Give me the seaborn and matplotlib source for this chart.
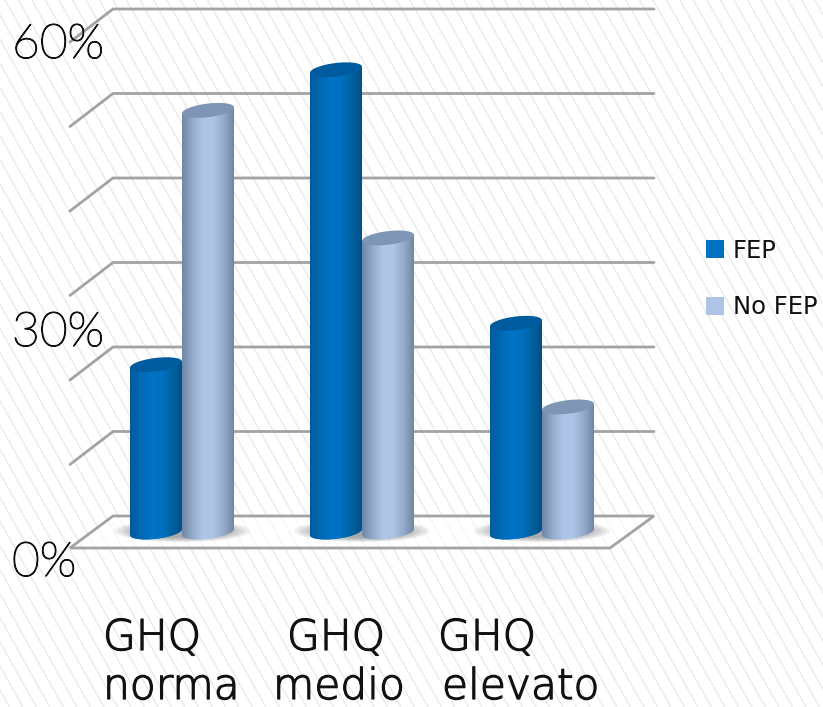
import numpy as np
import pandas as pd
import matplotlib
matplotlib.use("Agg")
import matplotlib.pyplot as plt
import matplotlib.patheffects as pe
from matplotlib.colors import LinearSegmentedColormap
from matplotlib.patches import Ellipse, PathPatch, Polygon
from matplotlib.path import Path
import seaborn as sns

# Chart values (percent)
groups = ["GHQ norma", "GHQ medio", "GHQ elevato"]
series_names = ["FEP", "No FEP"]
fep_values = [19.8, 54.7, 24.7]
no_fep_values = [49.9, 34.8, 14.8]
y_tick_labels = ["0%", "30%", "60%"]
grid_values = [0, 10, 20, 30, 40, 50, 60]

W, H = 823, 707
sns.set_theme(style="white")
plt.rcParams["font.family"] = ["Lato", "DejaVu Sans"]

fig = plt.figure(figsize=(W / 100, H / 100), dpi=100)
ax = fig.add_axes([0, 0, 1, 1])

# Scales: one category step is 180 px, one percentage point is 8.45 px
PX_X, PX_Y = 180.0, 8.45
ax.set_xlim(-182 / PX_X, (W - 182) / PX_X)
ax.set_ylim(-(H - 532) / PX_Y, 532 / PX_Y)


def fx(px):
    return (px - 182) / PX_X


def fy(py):
    return (532 - py) / PX_Y


df = pd.DataFrame({
    "group": groups * 2,
    "series": [series_names[0]] * 3 + [series_names[1]] * 3,
    "value": fep_values + no_fep_values,
})
palette = {"FEP": "#0070C0", "No FEP": "#AEC4E6"}
sns.barplot(data=df, x="group", y="value", hue="series", hue_order=series_names,
            palette=palette, width=0.578, gap=0, saturation=1, ax=ax, zorder=5,
            linewidth=0)
bars = list(ax.containers[0]) + list(ax.containers[1])
names = [series_names[0]] * 3 + [series_names[1]] * 3
ax.set_xlim(-182 / PX_X, (W - 182) / PX_X)
ax.set_ylim(-(H - 532) / PX_Y, 532 / PX_Y)
ax.set_axis_off()

# Diagonal pinstripe background
for x0 in np.arange(-400, W + 40, 13.5):
    ax.plot([fx(x0), fx(x0 + H * 0.56)], [fy(0), fy(H)], color="#EAEAEA", lw=1.0, zorder=0)

# Wall gridlines with their left-hand returns, and the floor
GRID = "#A3A3A3"
floor = [(fx(70), fy(548)), (fx(610), fy(548)), (fx(654), fy(516)), (fx(113), fy(516))]
for v in grid_values:
    y_back = 516 - v * PX_Y
    if v == 0:
        ax.add_patch(Polygon(floor, closed=True, fc="#FFFFFF", ec="none", alpha=0.6, zorder=1))
        ax.add_patch(Polygon(floor, closed=True, fc="none", ec=GRID, lw=2, zorder=1.5))
    else:
        ax.plot([fx(70), fx(113), fx(654)], [fy(y_back + 33), fy(y_back), fy(y_back)],
                color=GRID, lw=2, zorder=1, solid_joinstyle="miter")

# Cylinder shading across each bar
body_cmaps = {
    "FEP": LinearSegmentedColormap.from_list("fep", ["#005A9E", "#0068B4", "#0074C6", "#0070C0", "#00619F", "#004F85"]),
    "No FEP": LinearSegmentedColormap.from_list("nofep", ["#6F86A6", "#94ABCD", "#B0C6E8", "#AEC4E6", "#93A9C8", "#6F829E"]),
}
top_colors = {"FEP": "#005C9F", "No FEP": "#7F95B5"}
ramp = np.linspace(0, 1, 128).reshape(1, -1)

B = 6.8 / PX_Y     # ellipse half height
TILT = 3.0 / PX_Y  # rise of the ellipse toward its right edge
t = np.linspace(0, 2 * np.pi, 80)

# Soft contact shadows on the floor
for cx in [0, 1, 2]:
    for k in np.linspace(1.0, 0.6, 8):
        ax.add_patch(Ellipse((cx, fy(531)), 2 * 68 / PX_X * k, 2 * 11 / PX_Y * k,
                             fc="#555555", ec="none", alpha=0.08, zorder=2))

# Left bars first, so that the right one overlaps its neighbour
for bar, name in sorted(zip(bars, names), key=lambda p: p[0].get_x()):
    x0, w, h = bar.get_x(), bar.get_width(), bar.get_height()
    cx, a = x0 + w / 2, w / 2
    z = 5 + x0
    bar.set_zorder(z)
    tb = np.linspace(0, np.pi, 40)  # lower half of the base, right to left ...
    bx = cx + a * np.cos(tb)
    by = -B * np.sin(tb) + TILT * np.cos(tb)
    # ... then up the left side and across the top
    verts = np.column_stack([
        np.r_[bx, x0, x0 + w, bx[0]],
        np.r_[by, h - TILT, h + TILT, by[0]],
    ])
    body = PathPatch(Path(verts), fc=palette[name], ec="none", zorder=z)
    ax.add_patch(body)
    im = ax.imshow(ramp, cmap=body_cmaps[name], aspect="auto", zorder=z + 0.01,
                   extent=[x0, x0 + w, -2 * B - TILT, h + 2 * B])
    im.set_clip_path(body)
    ex = cx + a * np.cos(t)
    ey = h + B * np.sin(t) + TILT * np.cos(t)
    ax.fill(ex, ey, color=top_colors[name], lw=0, zorder=z + 0.02)
    bar.set_visible(False)

ax.set_xlim(-182 / PX_X, (W - 182) / PX_X)
ax.set_ylim(-(H - 532) / PX_Y, 532 / PX_Y)

# Thin display faces get a slight outline to reach the wanted stroke weight
outline = [pe.withStroke(linewidth=0.9, foreground="#111111")]

# Value axis labels
for lab, px, py in zip(y_tick_labels, [12, 12, 12], [576, 346, 58]):
    ax.text(fx(px), fy(py), lab, fontsize=34.5, color="#111111", ha="left", va="baseline",
            fontweight="light", path_effects=outline, zorder=20)

# Category labels, broken over two lines
first_line = ["GHQ", "GHQ", "GHQ"]
second_line = ["norma", "medio", "elevato"]
CAT_FONT = {"fontsize": 30.5, "family": ["DejaVu Sans"], "fontweight": "light"}
for a_txt, b_txt, xa, xb in zip(first_line, second_line, [103, 287, 438], [103, 273, 442]):
    ax.text(fx(xa), fy(650), a_txt, color="#111111", ha="left", va="baseline", zorder=20,
            path_effects=outline, **CAT_FONT)
    ax.text(fx(xb), fy(699), b_txt, color="#111111", ha="left", va="baseline", zorder=20,
            path_effects=outline, **CAT_FONT)

# Legend on the right
handles = [plt.Rectangle((0, 0), 1, 1, fc=palette[n], ec="none") for n in series_names]
leg = ax.legend(handles, series_names, loc="center left", frameon=False,
                bbox_to_anchor=(706 / W, 1 - 279 / H), borderaxespad=0, borderpad=0,
                handlelength=0.74, handleheight=0.74, handletextpad=0.37,
                labelspacing=1.34, prop={"family": "DejaVu Sans", "size": 17.5})
leg.set_zorder(20)
for txt in leg.get_texts():
    txt.set_color("#111111")

fig.savefig("out.png", dpi=100)
